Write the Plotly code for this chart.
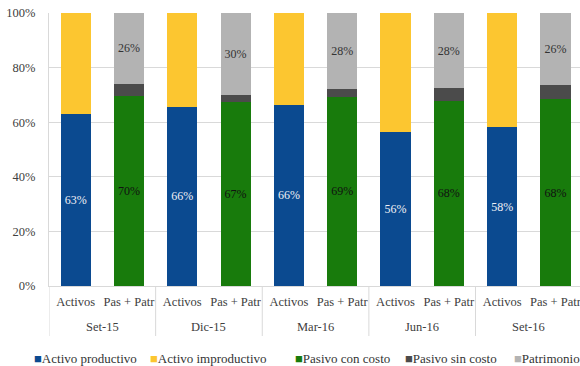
import plotly.graph_objects as go

periods = ["Set-15", "Dic-15", "Mar-16", "Jun-16", "Set-16"]
subcats = ["Activos", "Pas + Patr"]

activo_productivo = [63.1, 65.6, 66.4, 56.4, 58.1]
activo_improductivo = [36.9, 34.4, 33.6, 43.6, 41.9]
pasivo_con_costo = [69.7, 67.3, 69.4, 67.8, 68.4]
pasivo_sin_costo = [4.3, 2.8, 2.8, 4.6, 5.2]
patrimonio = [26.0, 29.9, 27.8, 27.6, 26.4]

y_ticks = [0, 20, 40, 60, 80, 100]

series = [
    ("Activo productivo", activo_productivo, "Activos", "#0b4a90", "#f0f0f5"),
    ("Activo improductivo", activo_improductivo, "Activos", "#fcc630", None),
    ("Pasivo con costo", pasivo_con_costo, "Pas + Patr", "#187b0c", "#111111"),
    ("Pasivo sin costo", pasivo_sin_costo, "Pas + Patr", "#4b4b4b", None),
    ("Patrimonio", patrimonio, "Pas + Patr", "#b3b3b3", "#333333"),
]

FONT = "'Liberation Serif', 'Times New Roman', serif"

n_sub = len(subcats)
x_pos = [k * n_sub + j for k in range(len(periods)) for j in range(n_sub)]
x_text = [s for _ in periods for s in subcats]

# plot area geometry (pixels)
PLOT_L, PLOT_R, PLOT_T, PLOT_B = 49, 580, 13, 286
PH = PLOT_B - PLOT_T

fig = go.Figure()
for name, vals, sub, color, tcolor in series:
    j = subcats.index(sub)
    xs = [k * n_sub + j for k in range(len(periods))]
    fig.add_trace(go.Bar(
        name=name,
        x=xs,
        y=vals,
        width=0.565,
        marker=dict(color=color, line=dict(width=0)),
        texttemplate="%{y:.0f}%" if tcolor else None,
        textposition="inside" if tcolor else "none",
        insidetextanchor="middle",
        textangle=0,
        textfont=dict(family=FONT, size=12, color=tcolor if tcolor else "#000"),
        showlegend=False,
    ))

annotations = []
shapes = []
# group labels and dividers
div_bottom = -(336 - PLOT_B) / PH
for k, p in enumerate(periods):
    annotations.append(dict(
        xref="x", yref="paper",
        x=k * n_sub + (n_sub - 1) / 2, y=-(327 - PLOT_B) / PH,
        xanchor="center", yanchor="middle",
        text=p, showarrow=False,
        font=dict(family=FONT, size=12.5, color="#404040"),
    ))
for k in range(len(periods) + 1):
    shapes.append(dict(
        type="line", xref="x", yref="paper",
        x0=k * n_sub - 0.5, x1=k * n_sub - 0.5, y0=0, y1=div_bottom,
        line=dict(color="#d9d9d9", width=1),
    ))

# legend built as annotations
leg_x = [32, 148, 293, 403, 512]
for (name, vals, sub, color, tcolor), px in zip(series, leg_x):
    annotations.append(dict(
        xref="paper", yref="paper",
        x=(px - PLOT_L) / (PLOT_R - PLOT_L), y=-(358 - PLOT_B) / PH,
        xanchor="left", yanchor="middle",
        text=f"<span style='color:{color}'>■</span>{name}",
        showarrow=False,
        font=dict(family=FONT, size=13, color="#333333"),
    ))

fig.update_layout(
    width=580, height=366,
    margin=dict(l=PLOT_L, r=580 - PLOT_R, t=PLOT_T, b=366 - PLOT_B),
    paper_bgcolor="white", plot_bgcolor="white",
    barmode="stack",
    font=dict(family=FONT, size=12, color="#404040"),
    annotations=annotations,
    shapes=shapes,
    xaxis=dict(
        range=[-0.5, 9.46],
        automargin=False,
        tickangle=0,
        tickvals=x_pos,
        ticktext=x_text,
        ticklabeloverflow="allow",
        showgrid=False, zeroline=False,
        showline=True, linecolor="#d9d9d9", linewidth=1,
        tickfont=dict(family=FONT, size=12.5, color="#404040"),
        ticks="outside", ticklen=4, tickcolor="rgba(0,0,0,0)",
    ),
    yaxis=dict(
        range=[0, 100],
        automargin=False,
        tickvals=y_ticks,
        ticktext=[f"{v}%" for v in y_ticks],
        showgrid=True, gridcolor="#d9d9d9", gridwidth=1,
        showline=True, linecolor="#d9d9d9", linewidth=1,
        zeroline=False,
        ticks="outside", ticklen=10, tickcolor="rgba(0,0,0,0)",
        tickfont=dict(family=FONT, size=12.5, color="#404040"),
    ),
)

fig.write_html("out.html")
